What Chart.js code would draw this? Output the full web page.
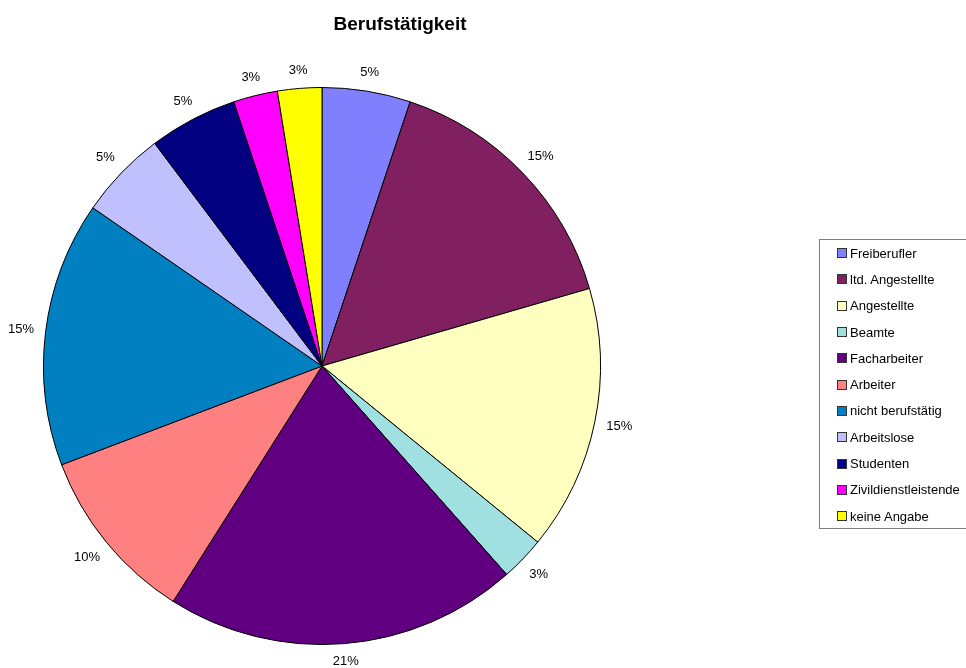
<!DOCTYPE html>
<html>
<head>
<meta charset="utf-8">
<script src="https://cdn.jsdelivr.net/npm/chart.js@4/dist/chart.umd.min.js"></script>
<style>
  body { margin: 0; background: #fff; font-family: "Liberation Sans", Arial, sans-serif; }
  #wrap { position: relative; width: 966px; height: 668px; overflow: hidden; }
  canvas { display: block; }
  #legend { position: absolute; left: 819px; top: 239px; width: 152px; height: 290px;
            border: 1px solid #808080; box-sizing: border-box; padding-top: 0; }
  .item { height: 26.3px; font-size: 13px; color: #000; display: flex; align-items: center; padding-left: 17px; white-space: nowrap; }
  .sw { width: 8px; height: 8px; border: 1px solid #333; margin-right: 3px; flex: none; }
</style>
</head>
<body>
<div id="wrap">
  <canvas id="pie" width="966" height="668"></canvas>
  <div id="legend"></div>
</div>
<script>
const chartTitle = 'Berufstätigkeit';
const labels = ['Freiberufler', 'ltd. Angestellte', 'Angestellte', 'Beamte', 'Facharbeiter', 'Arbeiter',
                'nicht berufstätig', 'Arbeitslose', 'Studenten', 'Zivildienstleistende', 'keine Angabe'];
const counts = [2, 6, 6, 1, 8, 4, 6, 2, 2, 1, 1];
const colors = ['#8080FF', '#802060', '#FFFFC0', '#A0E0E0', '#600080', '#FF8080',
                '#0080C0', '#C0C0FF', '#000080', '#FF00FF', '#FFFF00'];

// Titel und Prozentwerte ausserhalb der Segmente
const labelPlugin = {
    id: 'pctLabels',
    afterDraw(chart) {
        const ctx = chart.ctx;
        const total = counts.reduce((a, b) => a + b, 0);
        ctx.save();
        ctx.fillStyle = '#000';
        ctx.font = 'bold 19px "Liberation Sans", Arial, sans-serif';
        ctx.textAlign = 'center';
        ctx.textBaseline = 'middle';
        ctx.fillText(chartTitle, 400, 25);
        ctx.font = '13px "Liberation Sans", Arial, sans-serif';
        chart.getDatasetMeta(0).data.forEach((arc, i) => {
            const txt = Math.round(counts[i] / total * 100) + '%';
            const mid = (arc.startAngle + arc.endAngle) / 2;
            const c = Math.cos(mid), s = Math.sin(mid);
            const w = ctx.measureText(txt).width;
            // Abstand vom Rand: Luecke plus halbe Textbox in Richtung des Winkels
            const r = arc.outerRadius + 11 + Math.abs(c) * w / 2 + Math.abs(s) * 6;
            ctx.fillText(txt, arc.x + c * r, arc.y + s * r);
        });
        ctx.restore();
    }
};

new Chart(document.getElementById('pie'), {
    type: 'pie',
    data: {
        labels: labels,
        datasets: [{ data: counts, backgroundColor: colors, borderColor: '#000', borderWidth: 1 }]
    },
    options: {
        responsive: false,
        animation: false,
        layout: { padding: { left: 43, right: 365, top: 87, bottom: 23 } },
        plugins: { legend: { display: false }, tooltip: { enabled: false } }
    },
    plugins: [labelPlugin]
});

const legend = document.getElementById('legend');
labels.forEach((name, i) => {
    const row = document.createElement('div');
    row.className = 'item';
    row.innerHTML = '<span class="sw" style="background:' + colors[i] + '"></span>' + name;
    legend.appendChild(row);
});
</script>
</body>
</html>
